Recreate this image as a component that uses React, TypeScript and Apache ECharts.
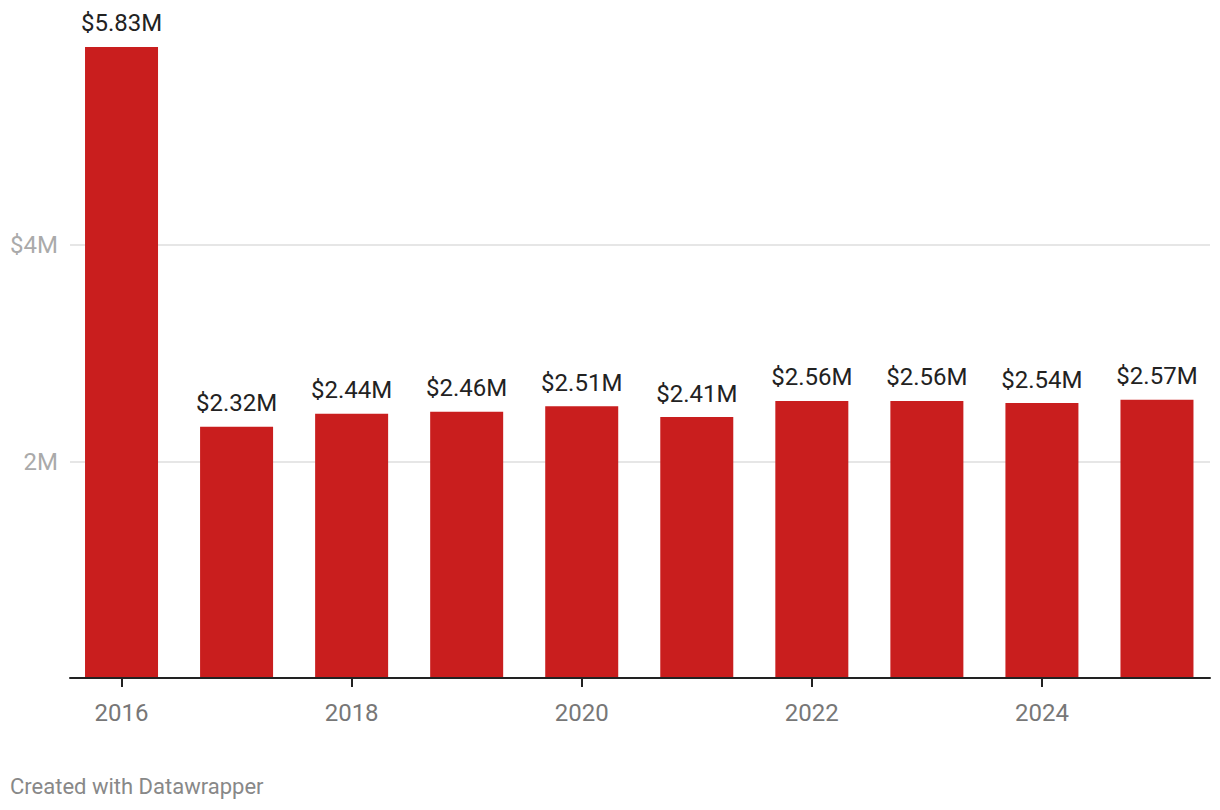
import React, { useEffect, useRef } from "react";
import * as echarts from "echarts";

const years = ["2016", "2017", "2018", "2019", "2020", "2021", "2022", "2023", "2024", "2025"];
const values = [5.83, 2.32, 2.44, 2.46, 2.51, 2.41, 2.56, 2.56, 2.54, 2.57];
const gridValues = [2, 4];
const yTickLabels: Record<number, string> = { 2: "2M", 4: "$4M" };

export default function App() {
  const ref = useRef<HTMLDivElement>(null);
  useEffect(() => {
    if (!ref.current) return;
    const chart = echarts.init(ref.current, undefined, { renderer: "svg" });
    const font = "Roboto";
    chart.setOption({
      animation: false,
      backgroundColor: "#ffffff",
      textStyle: { fontFamily: font },
      grid: [
        { left: 70, right: 10, top: 28.5, bottom: 132, containLabel: false, outerBoundsMode: "none" },
        { left: 64, right: 5.5, top: 28.5, bottom: 132, containLabel: false, outerBoundsMode: "none" },
      ],
      xAxis: [
        {
          gridIndex: 0,
          type: "value",
          min: 0,
          max: 1,
          z: 10,
          axisLine: { show: true, onZero: false, lineStyle: { color: "#222222", width: 2 } },
          axisTick: { show: false },
          axisLabel: { show: false },
          splitLine: { show: false },
        },
        {
          gridIndex: 1,
          type: "category",
          data: years,
          axisLine: { show: false },
          axisTick: {
            show: true,
            alignWithLabel: true,
            interval: 1,
            length: 9,
            lineStyle: { color: "#222222", width: 2 },
          },
          axisLabel: { interval: 1, color: "#777777", fontSize: 24, margin: 23, fontFamily: font },
          splitLine: { show: false },
        },
      ],
      yAxis: [
        {
          gridIndex: 0,
          type: "value",
          min: 0,
          max: 6,
          interval: 2,
          axisLine: { show: false },
          axisTick: { show: false },
          splitLine: { show: false },
          axisLabel: {
            color: "#aaaaaa",
            fontSize: 24,
            margin: 12,
            fontFamily: font,
            formatter: (v: number) => yTickLabels[v] || "",
          },
        },
        {
          gridIndex: 1,
          type: "value",
          min: 0,
          max: 6,
          interval: 2,
          show: false,
        },
      ],
      series: [
        {
          type: "line",
          xAxisIndex: 0,
          yAxisIndex: 0,
          data: [],
          silent: true,
          z: 0,
          markLine: {
            silent: true,
            z: 0,
            symbol: "none",
            label: { show: false },
            lineStyle: { color: "#e6e6e6", width: 2, type: "solid" },
            data: gridValues.map((v) => ({ yAxis: v })),
          },
        },
        {
          type: "bar",
          xAxisIndex: 1,
          yAxisIndex: 1,
          data: values,
          barWidth: 73,
          itemStyle: { color: "#c91e1e" },
          label: {
            show: true,
            position: "top",
            distance: 11.5,
            color: "#222222",
            fontSize: 24,
            fontFamily: font,
            formatter: (p: any) => "$" + Number(p.value).toFixed(2) + "M",
          },
          z: 3,
        },
      ],
      graphic: [
        {
          type: "text",
          left: 10,
          top: 775,
          style: { text: "Created with Datawrapper", fill: "#888888", fontSize: 22, fontFamily: font },
        },
      ],
    });
    return () => chart.dispose();
  }, []);
  return <div ref={ref} style={{ position: "fixed", left: 0, top: 0, width: 1220, height: 810 }} />;
}
